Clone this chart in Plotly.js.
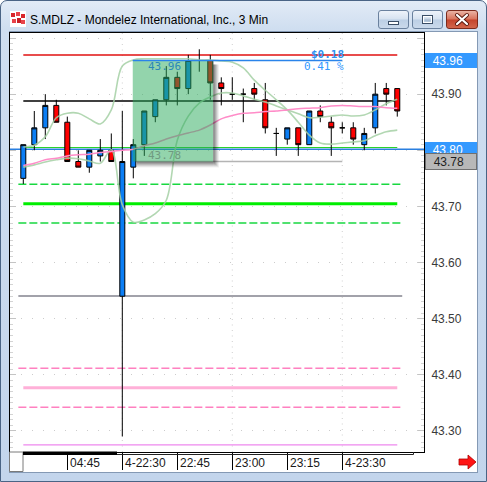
<!DOCTYPE html>
<html>
<head>
<meta charset="utf-8">
<script src="https://cdn.plot.ly/plotly-3.0.1.min.js"></script>
<style>
  html, body { margin: 0; padding: 0; background: #ffffff; }
  * { box-sizing: border-box; }
  #win {
    position: absolute; left: 0; top: 0; width: 487px; height: 482px;
    border: 1px solid #4a6485; border-radius: 7px 7px 0 0;
    background: linear-gradient(#e2ebf6 0px, #cfdef0 28px, #c3d5ec 100%);
    overflow: hidden;
  }
  #icon { position: absolute; left: 9px; top: 10px; width: 16px; height: 16px; }
  #title {
    position: absolute; left: 29px; top: 12px; white-space: nowrap;
    font: 12px "Liberation Sans", Arial, sans-serif; color: #000; line-height: 14px;
  }
  .btn {
    position: absolute; top: 9px; height: 19px; border: 1px solid #6a819e; border-radius: 3px;
    background: linear-gradient(#eef3fa 0%, #d6e2f0 48%, #bccfe5 52%, #cad9eb 100%);
  }
  #bmin { left: 377px; width: 31px; }
  #bmax { left: 411px; width: 31px; }
  #bclose { left: 445px; width: 32px; border-color: #7b2a1c;
    background: linear-gradient(#eab3a4 0%, #d9735c 48%, #c4442c 52%, #d2664c 100%); }
  .btn svg { position: absolute; left: 0; top: 0; }
  #client {
    position: absolute; left: 8px; top: 30px; width: 469px; height: 442px;
    background: #ffffff; border: 1px solid #8499b4;
  }
  #chart { position: absolute; left: 0; top: 0; width: 487px; height: 482px; z-index: 2; }
  #arrow { position: absolute; left: 458px; top: 454px; z-index: 3; }
</style>
</head>
<body>
<div id="win">
  <svg id="icon" width="16" height="16" viewBox="0 0 16 16">
    <rect x="0" y="0" width="16" height="16" fill="#ffffff"/>
    <rect x="1" y="2" width="4" height="4" fill="#d9262b"/>
    <rect x="6" y="1" width="4" height="4" fill="#e8434a"/>
    <rect x="11" y="3" width="4" height="4" fill="#d9262b"/>
    <rect x="2" y="8" width="4" height="4" fill="#e8434a"/>
    <rect x="7" y="7" width="4" height="5" fill="#c81e24"/>
    <rect x="11" y="9" width="4" height="4" fill="#e8434a"/>
  </svg>
  <div id="title">S.MDLZ - Mondelez International, Inc., 3 Min</div>
  <div class="btn" id="bmin">
    <svg width="29" height="17"><rect x="9.5" y="10.5" width="10" height="3" fill="#ffffff" stroke="#3b4e66" stroke-width="1"/></svg>
  </div>
  <div class="btn" id="bmax">
    <svg width="29" height="17"><rect x="9.5" y="4.5" width="10" height="8" fill="none" stroke="#3b4e66" stroke-width="1"/><rect x="10.5" y="5.5" width="8" height="6" fill="none" stroke="#ffffff" stroke-width="1"/><rect x="11.5" y="7.5" width="6" height="3" fill="#3b4e66" opacity="0.15"/></svg>
  </div>
  <div class="btn" id="bclose">
    <svg width="30" height="17"><path d="M10 4 L20 13 M20 4 L10 13" stroke="#5a1a10" stroke-width="4" stroke-linecap="round"/><path d="M10 4 L20 13 M20 4 L10 13" stroke="#ffffff" stroke-width="2.2" stroke-linecap="round"/></svg>
  </div>
  <div id="client"></div>
</div>
<svg id="arrow" width="20" height="16" viewBox="0 0 20 16">
  <path d="M1 5 L10 5 L10 1 L18 8 L10 15 L10 11 L1 11 Z" fill="#ff1414" stroke="#b00000" stroke-width="0.8"/>
</svg>
<div id="chart"></div>
<script>
// 3-minute bars, S.MDLZ
const barOpen  = [43.75,43.81,43.84,43.88,43.85,43.78,43.77,43.79,43.80,43.54,43.77,43.81,43.86,43.89,43.93,43.91,43.96,43.96,43.92,43.90,43.90,43.91,43.89,43.83,43.82,43.84,43.81,43.87,43.85,43.84,43.84,43.81,43.84,43.91,43.91];
const barHigh  = [43.81,43.87,43.90,43.89,43.86,43.80,43.80,43.82,43.83,43.87,43.82,43.87,43.89,43.95,43.94,43.97,43.98,43.97,43.93,43.93,43.91,43.92,43.92,43.84,43.84,43.84,43.87,43.88,43.86,43.85,43.85,43.84,43.92,43.92,43.91];
const barLow   = [43.74,43.80,43.82,43.85,43.78,43.77,43.76,43.78,43.78,43.29,43.75,43.79,43.85,43.88,43.88,43.90,43.94,43.89,43.88,43.89,43.85,43.89,43.83,43.79,43.81,43.79,43.81,43.85,43.79,43.83,43.81,43.80,43.83,43.88,43.86];
const barClose = [43.81,43.84,43.88,43.85,43.78,43.77,43.80,43.80,43.78,43.78,43.81,43.87,43.89,43.93,43.91,43.96,43.96,43.92,43.91,43.90,43.90,43.90,43.84,43.83,43.84,43.81,43.87,43.86,43.84,43.84,43.82,43.83,43.90,43.90,43.87];

// slow moving average (pink)
const maSlow = [43.773,43.777,43.783,43.786,43.790,43.792,43.793,43.796,43.798,43.800,43.802,43.808,43.813,43.820,43.826,43.831,43.836,43.845,43.856,43.862,43.866,43.867,43.869,43.870,43.872,43.874,43.875,43.876,43.879,43.880,43.879,43.878,43.878,43.876,43.875];
// envelope lines (pale green)
const bandA = [43.806,43.809,43.824,43.858,43.866,43.866,43.856,43.847,43.872,43.950,43.961,43.963,43.963,43.963,43.963,43.963,43.961,43.961,43.959,43.957,43.947,43.925,43.907,43.890,43.872,43.850,43.827,43.813,43.811,43.813,43.815,43.817,43.826,43.833,43.836];
const bandB = [43.770,43.774,43.779,43.783,43.786,43.785,43.781,43.777,43.801,43.703,43.672,43.676,43.687,43.711,43.818,43.861,43.884,43.895,43.902,43.902,43.897,43.891,43.886,43.879,43.872,43.865,43.858,43.859,43.861,43.863,43.861,43.863,43.872,43.883,43.891];

// time axis
const timeTickIdx  = [4, 9, 14, 19, 24, 29];
const timeTickText = ['04:45', '4-22:30', '22:45', '23:00', '23:15', '4-23:30'];
const timeGridIdx  = [9, 19, 29];

// price axis
const priceTickVals = [43.30, 43.40, 43.50, 43.60, 43.70, 43.80, 43.90, 44.00];
const priceTickText = ['43.30', '43.40', '43.50', '43.60', '43.70', '43.80', '43.90', ''];

// horizontal price levels
const sessionHigh   = 43.97;
const pivotLevel    = 43.888;
const lastPrice     = 43.802;
const greenRefLevel = 43.805;
const upperBand     = [43.7395, 43.7049, 43.6705];   // dashed, centre, dashed
const midLevel      = 43.5404;
const lowerBand     = [43.4116, 43.3770, 43.3421];   // dashed, centre, dashed
const floorLevel    = 43.275;
const markLevel     = 43.78;

// price-range measurement
const measureHigh = 43.96;
const measureLow  = 43.78;
const measureFromIdx = 10;
const measureToIdx   = 29;

const idx = barClose.map((_, i) => i);
const nBars = barClose.length;
const xRange = [-1.21, 36.43];
const yRange = [43.2624, 44.009];

const plotL = 10, plotT = 33, plotW = 414, plotH = 419;
const px2x = px => (px - plotL) / plotW;          // page px -> paper x
const py2y = py => 1 - (py - plotT) / plotH;       // page px -> paper y
const dxPx = (xRange[1] - xRange[0]) / plotW;      // data units per pixel
const dyPx = (yRange[1] - yRange[0]) / plotH;

function hline(y, x0, x1, color, width, dash, layer) {
  return { type: 'line', xref: 'x', yref: 'y', x0: x0, x1: x1, y0: y, y1: y,
           line: { color: color, width: width, dash: dash || 'solid' }, layer: layer || 'between' };
}
const dashPat = '8px,3px';
const first = 0, last = nBars - 1, pad = 0.45;

const shapes = [];
// dotted vertical grid
timeGridIdx.forEach(i => shapes.push({ type: 'line', xref: 'x', yref: 'y', x0: i, x1: i,
  y0: yRange[0], y1: yRange[1], line: { color: '#cfcfcf', width: 1, dash: '1px,4.5px' }, layer: 'between' }));

shapes.push(hline(sessionHigh, first, last, '#e01010', 1.5));
shapes.push(hline(pivotLevel, first, last, '#000000', 1.5));
shapes.push(hline(greenRefLevel, first, last, '#2ad22a', 1.2));
shapes.push(hline(lastPrice, xRange[0], xRange[1], '#2a7fe0', 1.5));
shapes.push(hline(markLevel, measureFromIdx, measureToIdx, '#b4b4b4', 1.5));
shapes.push(hline(upperBand[0], first - pad, last + pad, '#18d840', 1.5, dashPat));
shapes.push(hline(upperBand[1], first, last, '#00ee00', 3));
shapes.push(hline(upperBand[2], first - pad, last + pad, '#18d840', 1.5, dashPat));
shapes.push(hline(midLevel, first - pad, last + pad, '#a2a2aa', 2));
shapes.push(hline(lowerBand[0], first - pad, last + pad, '#ff80c0', 1.5, dashPat));
shapes.push(hline(lowerBand[1], first, last, '#ffb0d8', 3));
shapes.push(hline(lowerBand[2], first - pad, last + pad, '#ff80c0', 1.5, dashPat));
shapes.push(hline(floorLevel, first, last, '#ee88ee', 1.2));

// measurement box: soft shadow strips on the right and bottom, translucent fill, top edge
const boxX0 = measureFromIdx - 0.05, boxX1 = 17.25;
[[6, 0.06], [5, 0.08], [4, 0.10], [3, 0.12], [2, 0.14]].forEach(([o, a]) => {
  shapes.push({ type: 'rect', xref: 'x', yref: 'y', layer: 'above',
    x0: boxX1, x1: boxX1 + o * dxPx, y0: measureLow - o * dyPx, y1: measureHigh - 4 * dyPx,
    fillcolor: 'rgba(0,0,0,' + a + ')', line: { width: 0 } });
  shapes.push({ type: 'rect', xref: 'x', yref: 'y', layer: 'above',
    x0: boxX0 + 4 * dxPx, x1: boxX1, y0: measureLow - o * dyPx, y1: measureLow,
    fillcolor: 'rgba(0,0,0,' + a + ')', line: { width: 0 } });
});
shapes.push({ type: 'rect', xref: 'x', yref: 'y', layer: 'above',
  x0: boxX0, x1: boxX1, y0: measureLow, y1: measureHigh,
  fillcolor: 'rgba(40,170,90,0.5)', line: { width: 0 } });
shapes.push(hline(measureHigh, boxX0, measureToIdx, '#2a84ea', 1.5, 'solid', 'above'));

// chrome of the time strip
shapes.push({ type: 'rect', xref: 'paper', yref: 'paper', x0: px2x(9.5), x1: px2x(23), y0: py2y(471.5), y1: py2y(452),
  fillcolor: '#ffffff', line: { color: '#7a7a7a', width: 1 } });
shapes.push({ type: 'rect', xref: 'paper', yref: 'paper', x0: px2x(23), x1: px2x(117), y0: py2y(455), y1: py2y(451.5),
  fillcolor: '#000000', line: { width: 0 } });
shapes.push({ type: 'path', xref: 'paper', yref: 'paper',
  path: 'M' + px2x(117) + ',' + py2y(454.5) + ' L' + px2x(413.5) + ',' + py2y(454.5) + ' L' + px2x(413.5) + ',' + py2y(452),
  line: { color: '#222222', width: 1 } });

const traces = [
  { type: 'scatter', mode: 'lines', x: idx, y: bandA, hoverinfo: 'skip',
    line: { color: 'rgba(165,208,165,0.85)', width: 1.6, shape: 'spline', smoothing: 1.0 } },
  { type: 'scatter', mode: 'lines', x: idx, y: bandB, hoverinfo: 'skip',
    line: { color: 'rgba(165,208,165,0.85)', width: 1.6, shape: 'spline', smoothing: 1.0 } },
  { type: 'scatter', mode: 'lines', x: idx, y: maSlow, hoverinfo: 'skip',
    line: { color: '#ff8cc8', width: 1.5, shape: 'spline', smoothing: 0.8 } },
  { type: 'candlestick', x: idx, open: barOpen, high: barHigh, low: barLow, close: barClose,
    whiskerwidth: 0, hoverinfo: 'skip',
    increasing: { fillcolor: '#0b7ef5', line: { color: '#000000', width: 1 } },
    decreasing: { fillcolor: '#ff0000', line: { color: '#000000', width: 1 } } }
];

const diff = measureHigh - measureLow;
const monoFont = 'DejaVu Sans Mono, Liberation Mono, monospace';
const annotations = [];
// time labels, left-aligned next to their tick separators
timeTickIdx.forEach((v, k) => annotations.push({
  x: v, xref: 'x', y: 0, yref: 'paper', xanchor: 'left', yanchor: 'middle', xshift: 1, yshift: -11,
  text: timeTickText[k], showarrow: false, font: { size: 12, color: '#1a1a1a', family: 'Liberation Sans' } }));
// measurement labels
annotations.push({ x: boxX0, xref: 'x', y: measureHigh, yref: 'y', xanchor: 'left', yanchor: 'middle',
  xshift: 13, yshift: -5.5, text: measureHigh.toFixed(2), showarrow: false,
  font: { family: monoFont, size: 11, color: '#2a88b8' } });
annotations.push({ x: boxX0, xref: 'x', y: measureLow, yref: 'y', xanchor: 'left', yanchor: 'middle',
  xshift: 13, yshift: 6.4, text: measureLow.toFixed(2), showarrow: false,
  font: { family: monoFont, size: 11, color: '#6f9a80' } });
annotations.push({ x: measureToIdx, xref: 'x', y: measureHigh, yref: 'y', xanchor: 'right', yanchor: 'middle',
  xshift: 4, yshift: 6, text: '<b>$' + diff.toFixed(2) + '</b>', showarrow: false,
  font: { family: monoFont, size: 11, color: '#2f8ff0' } });
annotations.push({ x: measureToIdx, xref: 'x', y: measureHigh, yref: 'y', xanchor: 'right', yanchor: 'middle',
  xshift: 4, yshift: -6, text: (diff / measureLow * 100).toFixed(2) + ' %', showarrow: false,
  font: { family: monoFont, size: 11, color: '#3399ff' } });
// price flags on the axis
function priceFlag(price, bg, fg, border) {
  return { x: px2x(425), xref: 'paper', y: price, yref: 'y', xanchor: 'left', yanchor: 'middle',
    text: '\u00a0\u00a0' + price.toFixed(2), showarrow: false, align: 'left', width: border ? 48 : 50, height: 13,
    bgcolor: bg, bordercolor: border || bg, borderwidth: border ? 1 : 0, borderpad: 1,
    font: { size: 12, color: fg, family: 'Liberation Sans' } };
}
annotations.push(priceFlag(measureHigh, '#3399ff', '#ffffff'));
annotations.push(priceFlag(lastPrice, '#3399ff', '#ffffff'));
annotations.push(priceFlag(markLevel, '#b8b8b8', '#1e1e1e', '#707070'));

const layout = {
  width: 487, height: 482,
  margin: { l: plotL, r: 487 - plotL - plotW, t: plotT, b: 482 - plotT - plotH, pad: 0 },
  paper_bgcolor: 'rgba(0,0,0,0)', plot_bgcolor: '#ffffff',
  font: { family: 'Liberation Sans, Arial, sans-serif', size: 12, color: '#333333' },
  showlegend: false,
  boxgap: 0.35, boxgroupgap: 0.3,
  xaxis: {
    range: xRange, type: 'linear', fixedrange: true,
    showgrid: false, zeroline: false, showline: true, linecolor: '#000000', linewidth: 1, mirror: true,
    tickmode: 'array', tickvals: timeTickIdx, ticks: 'outside', ticklen: 17, tickcolor: '#000000', tickwidth: 1,
    showticklabels: false, rangeslider: { visible: false }
  },
  yaxis: {
    range: yRange, side: 'right', fixedrange: true,
    tickmode: 'array', tickvals: priceTickVals, ticktext: priceTickText,
    showgrid: true, gridcolor: '#cccccc', griddash: '1px,10px', gridwidth: 1, zeroline: false,
    showline: true, linecolor: '#000000', linewidth: 1, mirror: 'allticks',
    ticks: 'inside', ticklen: 6, tickcolor: '#c4c4c4', tickwidth: 1, ticklabelstandoff: 4,
    tickfont: { size: 12, color: '#3a3a3a', family: 'Liberation Sans' },
    minor: { dtick: 0.01, ticks: 'inside', ticklen: 3, tickcolor: '#d4d4d4', showgrid: false }
  },
  shapes: shapes,
  annotations: annotations
};

Plotly.newPlot('chart', traces, layout, { staticPlot: true, displayModeBar: false });
</script>
</body>
</html>
